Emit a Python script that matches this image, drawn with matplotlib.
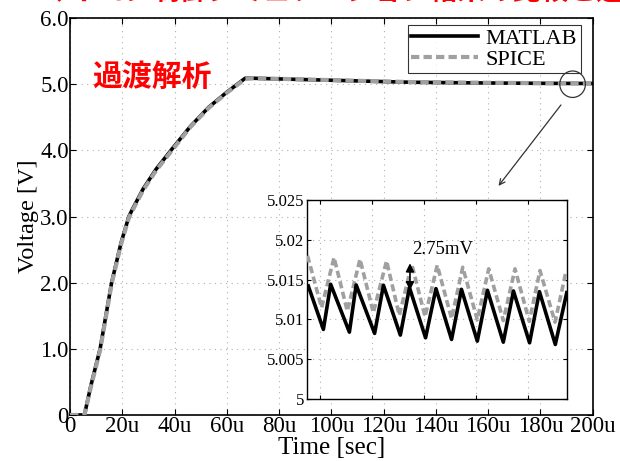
import matplotlib
matplotlib.use("Agg")
import matplotlib.pyplot as plt
from matplotlib.patches import Ellipse
import numpy as np

# ---- data ----
# main transient (time in microseconds, voltage in V)
t_main = [0, 5.5, 8.0, 11.5, 15.9, 19.5, 22.5, 24.0, 28.0, 33.0, 39.0, 46.0, 53.0, 60.0, 64.0, 67.0, 70.0,
          85.0, 100.0, 115.0, 130.0, 150.0, 170.0, 185.0, 200.0]
v_matlab = [0, 0, 0.45, 1.0, 2.0, 2.6, 3.0, 3.12, 3.42, 3.72, 4.02, 4.36, 4.65, 4.88, 5.0, 5.09, 5.09,
            5.075, 5.06, 5.045, 5.03, 5.022, 5.016, 5.013, 5.011]
v_spice = [0, 0, 0.43, 0.98, 1.98, 2.58, 2.98, 3.10, 3.40, 3.70, 4.00, 4.35, 4.64, 4.87, 4.99, 5.08, 5.09,
           5.077, 5.062, 5.047, 5.033, 5.025, 5.019, 5.016, 5.014]

# zoomed ripple (time in microseconds)
t_ripple_matlab = [187.55, 188.13, 188.41, 189.13, 189.39, 190.10, 190.44, 191.09, 191.44, 192.06,
                   192.46, 193.06, 193.44, 194.05, 194.44, 195.05, 195.44, 196.06, 196.44, 197.05, 197.49]
v_ripple_matlab = [5.0142, 5.00874, 5.01441, 5.00840, 5.01433, 5.00824, 5.01429, 5.00803, 5.01400,
                   5.00769, 5.01387, 5.00748, 5.01378, 5.00727, 5.01366, 5.00714, 5.01357, 5.00706,
                   5.01349, 5.00685, 5.01336]
t_ripple_spice = [187.52, 188.06, 188.54, 189.05, 189.54, 190.05, 190.56, 191.05, 191.53, 192.04,
                  192.51, 193.06, 193.49, 194.05, 194.49, 195.05, 195.50, 196.05, 196.46, 197.04, 197.46]
v_ripple_spice = [5.0180, 5.01147, 5.01777, 5.01105, 5.01756, 5.01084, 5.01735, 5.01050, 5.01693,
                  5.01035, 5.01680, 5.01010, 5.01655, 5.00995, 5.01635, 5.00985, 5.01635, 5.00975,
                  5.01614, 5.00965, 5.01600]

x_ticks = [0, 20, 40, 60, 80, 100, 120, 140, 160, 180, 200]
x_labels = ["0", "20u", "40u", "60u", "80u", "100u", "120u", "140u", "160u", "180u", "200u"]
y_ticks = [0, 1, 2, 3, 4, 5, 6]
y_labels = ["0", "1.0", "2.0", "3.0", "4.0", "5.0", "6.0"]
inset_y_ticks = [5.0, 5.005, 5.01, 5.015, 5.02, 5.025]
inset_y_labels = ["5", "5.005", "5.01", "5.015", "5.02", "5.025"]
inset_x_ticks = [188, 190, 192, 194, 196]

serif = ["Liberation Serif", "DejaVu Serif"]
plt.rcParams["font.family"] = serif

fig = plt.figure(figsize=(6.2, 4.61), dpi=100)
ax = fig.add_axes([0.113, 0.0998, 0.843, 0.861])

ax.plot(t_main, v_matlab, color="black", lw=2.6, solid_joinstyle="round", zorder=3, label="MATLAB")
ax.plot(t_main, v_spice, color="#a0a0a0", lw=3.0, ls=(0, (2.0, 1.0)), zorder=4, label="SPICE")

ax.set_xlim(0, 200)
ax.set_ylim(0, 6)
ax.set_xticks(x_ticks)
ax.set_xticklabels(x_labels)
ax.set_yticks(y_ticks)
ax.set_yticklabels(y_labels)
ax.tick_params(direction="in", top=True, right=True, labelsize=16.5, length=4, pad=1)
ax.grid(True, color="#b0b0b0", ls=(0, (1, 4)), lw=0.8)
for s in ax.spines.values():
    s.set_linewidth(1.2)
ax.set_xlabel("Time [sec]", fontsize=18, labelpad=0)
ax.set_ylabel("Voltage [V]", fontsize=17.5, labelpad=1)

leg = ax.legend(loc="upper right", bbox_to_anchor=(0.977, 0.982), fontsize=16, frameon=True,
                fancybox=False, edgecolor="black", borderpad=0.15, handlelength=3.0,
                handletextpad=0.35, labelspacing=0.0, borderaxespad=0.0)
leg.get_frame().set_linewidth(0.8)

ax.text(8.4, 4.88, "過渡解析", color="red", fontsize=21.5, fontweight="bold",
        family=["Noto Sans CJK JP", "DejaVu Sans"], ha="left", va="bottom")

# circle and arrow
ax.add_patch(Ellipse((192.3, 5.0), 9.8, 0.40, fill=False, edgecolor="#333333", lw=0.9, zorder=6))
ax.annotate("", xy=(163.3, 3.43), xytext=(188.5, 4.72),
            arrowprops=dict(arrowstyle="->", color="#333333", lw=0.9, mutation_scale=10))

# inset
axin = fig.add_axes([307 / 620, 1 - 399 / 461, 260 / 620, 199 / 461])
axin.plot(t_ripple_matlab, v_ripple_matlab, color="black", lw=2.6, zorder=4)
axin.plot(t_ripple_spice, v_ripple_spice, color="#a0a0a0", lw=2.6, ls=(0, (2.0, 1.0)), zorder=3)
axin.set_xlim(187.5, 197.5)
axin.set_ylim(5.0, 5.025)
axin.set_xticks(inset_x_ticks)
axin.set_xticklabels([])
axin.set_yticks(inset_y_ticks)
axin.set_yticklabels(inset_y_labels)
axin.tick_params(direction="in", top=True, right=True, labelsize=12, length=3, pad=2)
axin.grid(True, color="#b0b0b0", ls=(0, (1, 4)), lw=0.8)
for s in axin.spines.values():
    s.set_linewidth(1.0)
axin.annotate("", xy=(191.46, 5.0133), xytext=(191.46, 5.0174),
              arrowprops=dict(arrowstyle="<|-|>", color="black", lw=1.2, mutation_scale=12))
axin.text(192.7, 5.0188, "2.75mV", fontsize=13.5, ha="center", va="center")

# top title (cut off in the reference)
fig.text(0.56, 1.0, "マイコン制御シミュレーション結果の比較と遅延", color="red", fontsize=20,
         fontweight="bold", family=["Noto Sans CJK JP", "DejaVu Sans"], ha="center",
         va="baseline")

fig.savefig("out.png", dpi=100)
